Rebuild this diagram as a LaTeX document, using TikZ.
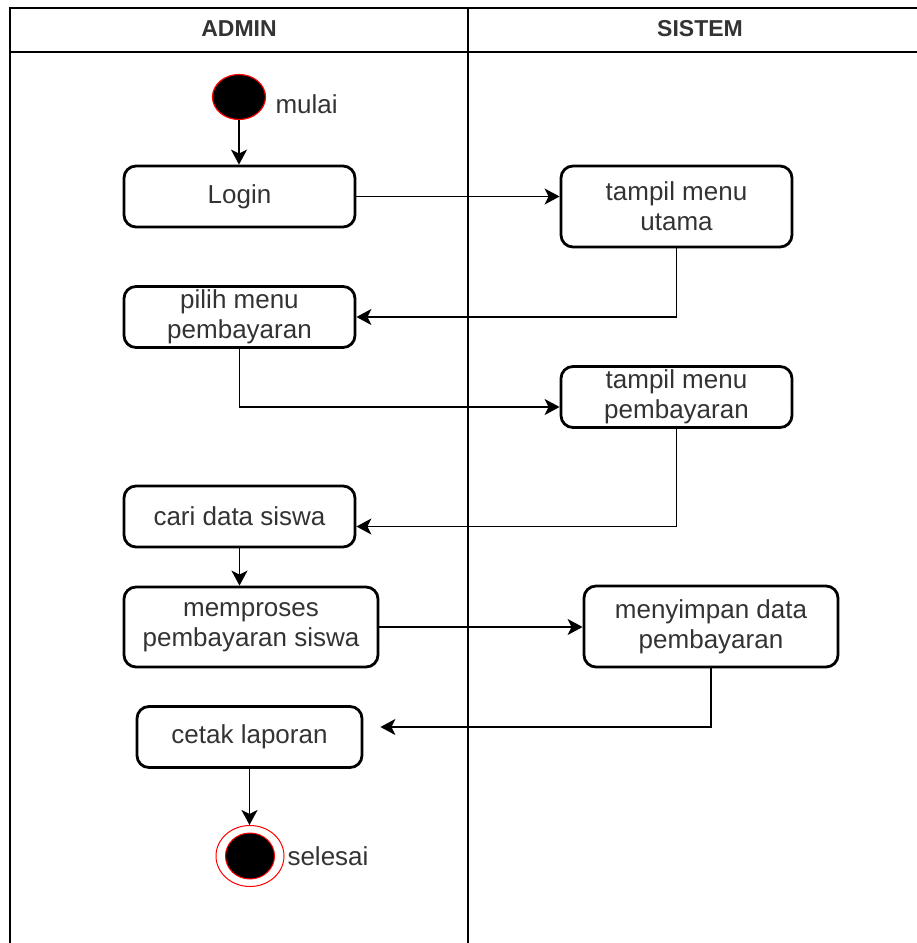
\documentclass[tikz,border=0pt]{standalone}
\usepackage{fontspec}
\setmainfont{Liberation Sans}
\usetikzlibrary{arrows.meta,shapes.geometric}

\definecolor{txtgray}{RGB}{51,51,51}

\tikzset{
	act/.style={draw, line width=2.8pt, rounded corners=12pt, minimum height=61pt,
		align=center, text=txtgray, font=\fontsize{26}{30}\selectfont},
	flow/.style={line width=1.8pt, -{Stealth[length=15pt,width=16pt,inset=4pt]}},
	lane/.style={line width=1.6pt},
	lanehead/.style={text=txtgray, font=\bfseries\fontsize{23}{26}\selectfont},
	lbl/.style={text=txtgray, font=\fontsize{26}{30}\selectfont},
}

\begin{document}
\begin{tikzpicture}[x=1pt, y=-1pt]
			\useasboundingbox (0,0) rectangle (917,943);
			
			% Swimlanes
			\draw[lane] (10,943) -- (10,8) -- (917,8);
			\draw[lane] (10,52) -- (917,52);
			\draw[lane] (468,8) -- (468,943);
			\node[lanehead] (admin) at (239,29) {ADMIN};
			\node[lanehead] (sistem) at (700,29) {SISTEM};
			
			% Start and end
			\node[ellipse, draw=red, fill=black, line width=1.2pt, minimum width=53pt, minimum height=45pt, inner sep=0pt] (start) at (239,97) {};
			\node[lbl, anchor=west] (mulai) at (272,104) {mulai};
			\node[ellipse, draw=red, fill=white, line width=1pt, minimum width=68pt, minimum height=61pt, inner sep=0pt] (stop) at (250,856) {};
			\node[ellipse, draw=red, fill=black, line width=1pt, minimum width=49pt, minimum height=46pt, inner sep=0pt] (stopin) at (250,856) {};
			\node[lbl, anchor=west] (selesai) at (284,856) {selesai};
			
			% Activities
			\node[act, minimum width=231pt] (login) at (239.5,196.5) {Login};
			\node[act, minimum width=231pt, minimum height=81pt] (utama) at (676.5,206.5) {tampil menu\\utama};
			\node[act, minimum width=231pt] (pilih) at (239.5,317) {pilih menu\\pembayaran};
			\node[act, minimum width=231pt] (bayar) at (676.5,397) {tampil menu\\pembayaran};
			\node[act, minimum width=231pt] (cari) at (239.5,516.5) {cari data siswa};
			\node[act, minimum width=254pt, minimum height=80pt] (proses) at (251,627) {memproses\\pembayaran siswa};
			\node[act, minimum width=254pt, minimum height=81pt] (simpan) at (711,626.5) {menyimpan data\\pembayaran};
			\node[act, minimum width=225pt] (cetak) at (249.5,737) {cetak laporan};
			
			% Flows
			\coordinate (cetakin) at ([xshift=17pt,yshift=10pt]cetak.east);
			\draw[flow] (start.south) -- (start.south |- login.north);
			\draw[flow] (login.east) -- (login.east -| utama.west);
			\draw[flow] (utama.south) |- (pilih.east);
			\draw[flow] (pilih.south) |- ([yshift=-10pt]bayar.west);
			\draw[flow] (bayar.south) |- ([yshift=-10pt]cari.east);
			\draw[flow] (cari.south) -- (cari.south |- proses.north);
			\draw[flow] (proses.east) -- (proses.east -| simpan.west);
			\draw[flow] (simpan.south) |- (cetakin);
			\draw[flow] (cetak.south) -- (cetak.south |- stop.north);
		\end{tikzpicture}
\end{document}
